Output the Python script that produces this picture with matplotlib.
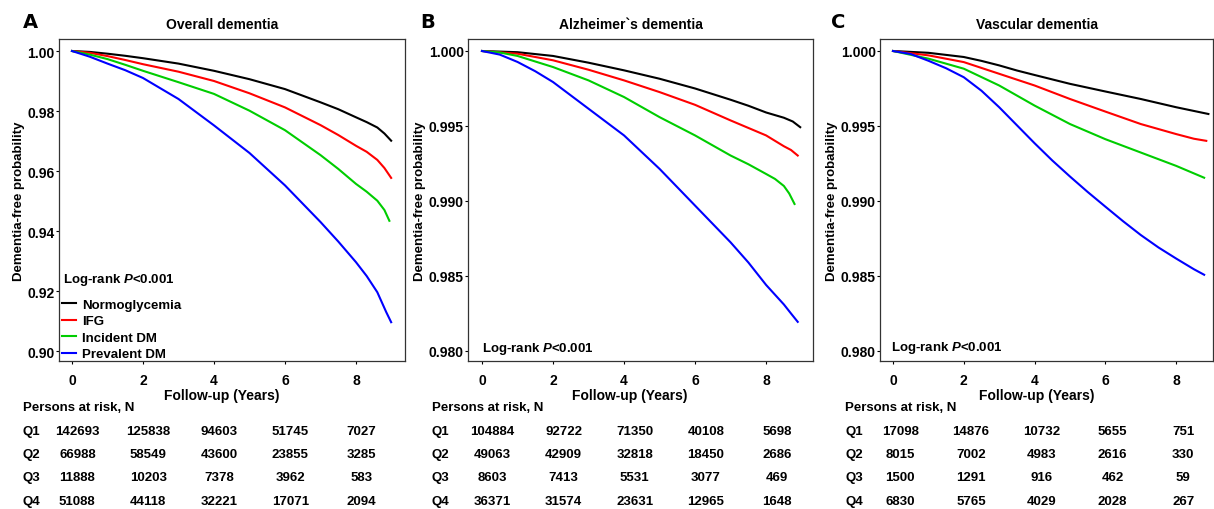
import matplotlib
matplotlib.use('Agg')
import matplotlib.pyplot as plt
from matplotlib.transforms import blended_transform_factory

plt.rcParams['font.family'] = ['Liberation Sans', 'DejaVu Sans']
plt.rcParams['font.weight'] = 'bold'
plt.rcParams['axes.labelweight'] = 'bold'
plt.rcParams['mathtext.fontset'] = 'custom'
plt.rcParams['mathtext.it'] = 'Liberation Sans:bold:italic'
plt.rcParams['mathtext.rm'] = 'Liberation Sans:bold'

groups = ['Normoglycemia', 'IFG', 'Incident DM', 'Prevalent DM']
colors = ['black', '#ff0000', '#00cd00', '#0000ff']

# Overall dementia (A)
a_t = [[0, 0.5, 1, 1.5, 2, 3, 4, 5, 6, 7, 7.5, 8, 8.3, 8.6, 8.8, 8.99],
       [0, 0.5, 1, 1.5, 2, 3, 4, 5, 6, 7, 7.5, 8, 8.3, 8.6, 8.8, 8.99],
       [0, 0.5, 1, 1.5, 2, 3, 4, 5, 6, 7, 7.5, 8, 8.3, 8.6, 8.8, 8.94],
       [0, 0.5, 1, 1.5, 2, 3, 4, 5, 6, 7, 7.5, 8, 8.3, 8.6, 8.85, 8.99]]
a_s = [[1.0, 0.9997, 0.9991, 0.9984, 0.9976, 0.9958, 0.9934, 0.9906, 0.9873, 0.9829, 0.9806, 0.9779, 0.9763, 0.9745, 0.9725, 0.9701],
       [1.0, 0.9994, 0.9983, 0.9970, 0.9956, 0.9931, 0.9900, 0.9859, 0.9812, 0.9753, 0.9720, 0.9684, 0.9664, 0.9637, 0.9610, 0.9577],
       [1.0, 0.9988, 0.9973, 0.9954, 0.9934, 0.9896, 0.9857, 0.9801, 0.9736, 0.9653, 0.9607, 0.9557, 0.9531, 0.9501, 0.9470, 0.9434],
       [1.0, 0.9981, 0.9958, 0.9936, 0.9910, 0.9840, 0.9752, 0.9660, 0.9552, 0.9430, 0.9365, 0.9296, 0.9250, 0.9196, 0.9130, 0.9096]]

# Alzheimer's dementia (B)
b_t = [[0, 1, 2, 3, 4, 5, 6, 7, 7.5, 8, 8.5, 8.75, 8.96],
       [0, 1, 2, 3, 4, 5, 6, 7, 7.5, 8, 8.5, 8.7, 8.89],
       [0, 0.5, 1, 1.5, 2, 3, 4, 5, 6, 7, 7.5, 8, 8.25, 8.5, 8.65, 8.8],
       [0, 0.5, 1, 1.5, 2, 3, 4, 5, 6, 7, 7.5, 8, 8.5, 8.7, 8.89]]
b_s = [[1.0, 0.99992, 0.99967, 0.99922, 0.99871, 0.99815, 0.99750, 0.99675, 0.99635, 0.99590, 0.99555, 0.99530, 0.99492],
       [1.0, 0.99982, 0.99938, 0.99875, 0.99804, 0.99726, 0.99641, 0.99537, 0.99487, 0.99437, 0.99365, 0.99340, 0.99303],
       [1.0, 0.99990, 0.99967, 0.99930, 0.99893, 0.99804, 0.99693, 0.99559, 0.99437, 0.99303, 0.99245, 0.99180, 0.99147, 0.99100, 0.99050, 0.98980],
       [1.0, 0.99976, 0.99927, 0.99865, 0.99793, 0.99615, 0.99437, 0.99214, 0.98969, 0.98724, 0.98590, 0.98440, 0.98310, 0.98250, 0.98194]]

# Vascular dementia (C)
c_t = [[0, 1, 2, 2.5, 3, 3.5, 4, 5, 6, 7, 8, 8.91],
       [0, 1, 2, 3, 4, 5, 6, 7, 8, 8.5, 8.85],
       [0, 1, 2, 3, 4, 5, 6, 7, 8, 8.79],
       [0, 0.5, 1, 1.5, 2, 2.5, 3, 3.5, 4, 4.5, 5, 5.5, 6, 6.5, 7, 7.5, 8, 8.5, 8.79]]
c_s = [[1.0, 0.99988, 0.99960, 0.99934, 0.99904, 0.99870, 0.99840, 0.99781, 0.99730, 0.99680, 0.99625, 0.99580],
       [1.0, 0.99971, 0.99926, 0.99848, 0.99770, 0.99680, 0.99596, 0.99513, 0.99446, 0.99415, 0.99401],
       [1.0, 0.99949, 0.99882, 0.99770, 0.99636, 0.99513, 0.99412, 0.99323, 0.99234, 0.99155],
       [1.0, 0.99980, 0.99935, 0.99885, 0.99825, 0.99735, 0.99625, 0.99505, 0.99385, 0.99270, 0.99163, 0.99060,
        0.98962, 0.98865, 0.98773, 0.98690, 0.98616, 0.98545, 0.98508]]

risk_times = [0, 2, 4, 6, 8]
rows = ['Q1', 'Q2', 'Q3', 'Q4']
a_risk = [[142693, 125838, 94603, 51745, 7027],
          [66988, 58549, 43600, 23855, 3285],
          [11888, 10203, 7378, 3962, 583],
          [51088, 44118, 32221, 17071, 2094]]
b_risk = [[104884, 92722, 71350, 40108, 5698],
          [49063, 42909, 32818, 18450, 2686],
          [8603, 7413, 5531, 3077, 469],
          [36371, 31574, 23631, 12965, 1648]]
c_risk = [[17098, 14876, 10732, 5655, 751],
          [8015, 7002, 4983, 2616, 330],
          [1500, 1291, 916, 462, 59],
          [6830, 5765, 4029, 2028, 267]]

W, H = 1214, 510
fig = plt.figure(figsize=(W / 100, H / 100), dpi=100)

def px_axes(l, r, t, b):
    return fig.add_axes([l / W, 1 - b / H, (r - l) / W, (b - t) / H])

panels = [
    dict(box=(59, 405), letter='A', lx=30, title='Overall dementia', t=a_t, s=a_s, risk=a_risk,
         xlim=(-0.366, 9.38), ylim=(0.89667, 1.004), yticks=[0.90, 0.92, 0.94, 0.96, 0.98, 1.00],
         fmt='%.2f', off=0.15, lr=(0.012, 0.255)),
    dict(box=(468, 813), letter='B', lx=428, title='Alzheimer`s dementia', t=b_t, s=b_s, risk=b_risk,
         xlim=(-0.394, 9.32), ylim=(0.97933, 1.0008), yticks=[0.980, 0.985, 0.990, 0.995, 1.000],
         fmt='%.3f', off=0.3, lr=(0.04, 0.04)),
    dict(box=(880, 1213), letter='C', lx=838, title='Vascular dementia', t=c_t, s=c_s, risk=c_risk,
         xlim=(-0.367, 9.04), ylim=(0.97933, 1.0008), yticks=[0.980, 0.985, 0.990, 0.995, 1.000],
         fmt='%.3f', off=0.2, lr=(0.033, 0.043)),
]

for p in panels:
    ax = px_axes(p['box'][0], p['box'][1], 40, 362)
    lines = []
    for k in range(4):
        ln, = ax.plot(p['t'][k], p['s'][k], color=colors[k], lw=1.5, label=groups[k])
        lines.append(ln)
    ax.set_xlim(*p['xlim'])
    ax.set_ylim(*p['ylim'])
    ax.set_xticks([0, 2, 4, 6, 8])
    ax.set_yticks(p['yticks'])
    ax.set_yticklabels([p['fmt'] % v for v in p['yticks']])
    ax.tick_params(direction='out', length=2.5, width=0.8, labelsize=10)
    ax.tick_params(axis='y', pad=0.5)
    ax.tick_params(axis='x', pad=6)
    for sp in ax.spines.values():
        sp.set_color('#333333')
        sp.set_linewidth(0.9)
    ax.set_xlabel('Follow-up (Years)', fontsize=10, labelpad=0)
    ax.xaxis.set_label_coords(0.47, -0.085)
    ax.set_ylabel('Dementia-free probability', fontsize=9.5, labelpad=2)
    ax.set_title(p['title'], fontsize=10, fontweight='bold', pad=8, x=0.472)
    fig.text(p['lx'] / W, 1 - 22 / H, p['letter'], fontsize=14, fontweight='bold',
             ha='center', va='center', family=['DejaVu Sans'])

    ax.text(p['lr'][0], p['lr'][1], r'Log-rank $\mathit{P}$<0.001', transform=ax.transAxes,
            fontsize=9.5, va='center', ha='left')
    if p['letter'] == 'A':
        ax.legend(handles=lines, loc='lower left', bbox_to_anchor=(0.0, -0.006), frameon=False,
                  fontsize=9.5, handlelength=1.1, handletextpad=0.45, labelspacing=0.32,
                  borderpad=0.2, borderaxespad=0)

    # risk table under each panel
    tx = blended_transform_factory(ax.transAxes, fig.transFigure)
    td = blended_transform_factory(ax.transData, fig.transFigure)
    fig_y = [432, 455, 478, 502]
    ax.text(-0.105, 1 - 408 / H, 'Persons at risk, N', transform=tx, fontsize=9.5,
            ha='left', va='center')
    for r in range(4):
        ax.text(-0.105, 1 - fig_y[r] / H, rows[r], transform=tx, fontsize=9.5,
                ha='left', va='center')
        for j, tt in enumerate(risk_times):
            ax.text(tt + p['off'], 1 - fig_y[r] / H, str(p['risk'][r][j]), transform=td,
                    fontsize=9.5, ha='center', va='center')

fig.savefig('out.png', dpi=100, facecolor='white')
